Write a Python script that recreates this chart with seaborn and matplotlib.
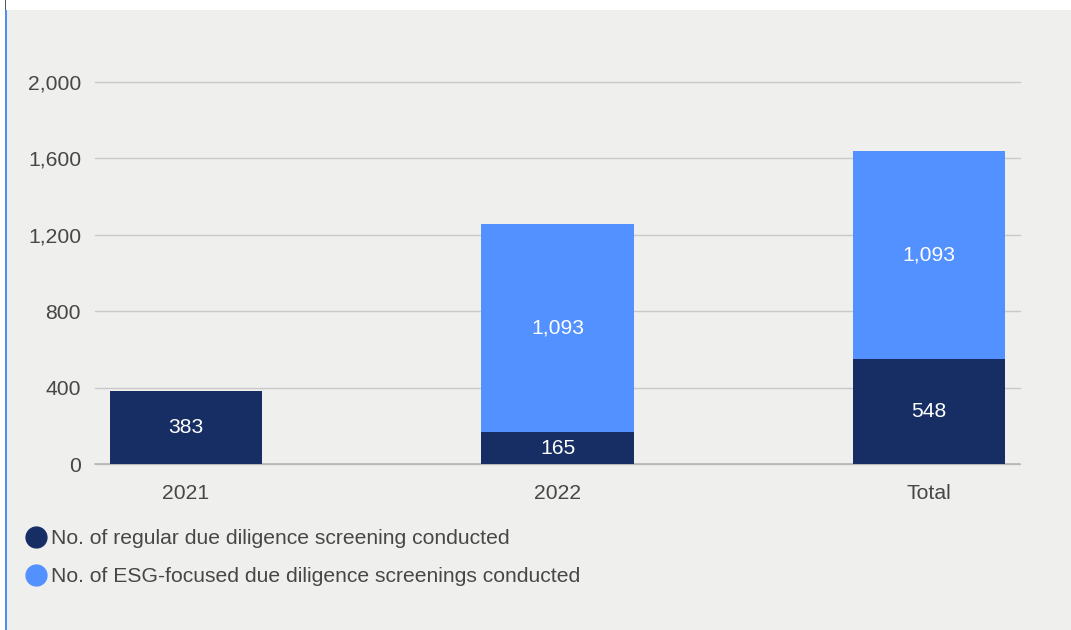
import matplotlib
matplotlib.use("Agg")
import matplotlib.pyplot as plt
from matplotlib.lines import Line2D
from matplotlib.patches import Rectangle
import seaborn as sns

categories = ["2021", "2022", "Total"]
regular = [383, 165, 548]
esg_focused = [0, 1093, 1093]
y_ticks = [0, 400, 800, 1200, 1600, 2000]
series_names = [
    "No. of regular due diligence screening conducted",
    "No. of ESG-focused due diligence screenings conducted",
]

navy = "#162e64"
light_blue = "#5291ff"
panel = "#efefed"
grid_c = "#c9c9c9"
text_c = "#474747"
fs = 15.2

sns.set_theme(style="white")
plt.rcParams["font.family"] = ["Liberation Sans", "DejaVu Sans"]

fig = plt.figure(figsize=(10.71, 6.30), dpi=100, facecolor="white")
W, H = 1071, 630

# grey panel with blue accent line on the left
fig.add_artist(Rectangle((7 / W, 0), 1 - 7 / W, (H - 10) / H,
                         transform=fig.transFigure, facecolor=panel,
                         edgecolor="none", zorder=0))
fig.add_artist(Rectangle((5 / W, 0), 2 / W, (H - 10) / H,
                         transform=fig.transFigure, facecolor="#4f8ef7",
                         edgecolor="none", zorder=1))
fig.add_artist(Rectangle((5 / W, (H - 10) / H), 1 / W, 10 / H,
                         transform=fig.transFigure, facecolor="#555555",
                         edgecolor="none", zorder=1))

ax = fig.add_axes([95 / W, (H - 464) / H, (1020 - 95) / W, (464 - 82) / H])
ax.set_facecolor("none")

totals = [r + e for r, e in zip(regular, esg_focused)]
sns.barplot(x=categories, y=totals, order=categories, color=light_blue,
            saturation=1, width=0.41, linewidth=0, ax=ax, zorder=3)
sns.barplot(x=categories, y=regular, order=categories, color=navy,
            saturation=1, width=0.41, linewidth=0, ax=ax, zorder=4)

for i, (r, e) in enumerate(zip(regular, esg_focused)):
    ax.text(i, r / 2, f"{r:,}", ha="center", va="center", color="white",
            fontsize=fs, zorder=5)
    if e > 0:
        ax.text(i, r + e / 2, f"{e:,}", ha="center", va="center",
                color="white", fontsize=fs, zorder=5)

ax.set_xlim(-0.245, 2.245)
ax.set_ylim(0, 2000)
ax.set_yticks(y_ticks)
ax.set_yticklabels([f"{v:,}" for v in y_ticks])
ax.yaxis.grid(True, color=grid_c, linewidth=1.0, zorder=0)
ax.set_axisbelow(True)
for s in ax.spines.values():
    s.set_visible(False)
ax.axhline(0, color="#b5b5b5", linewidth=1.2, zorder=2, clip_on=False)
ax.tick_params(axis="y", length=0, pad=10, labelsize=fs, labelcolor=text_c)
ax.tick_params(axis="x", length=0, pad=14.5, labelsize=fs, labelcolor=text_c)
ax.set_xlabel("")
ax.set_ylabel("")
for gl in ax.get_ygridlines():
    gl.set_clip_on(False)

handles = [Line2D([], [], marker="o", linestyle="none", markersize=15,
                  markerfacecolor=c, markeredgecolor=c)
           for c in (navy, light_blue)]
fig.legend(handles, series_names, loc="upper left",
           bbox_to_anchor=(28 / W, (H - 529) / H), frameon=False,
           fontsize=fs, labelcolor=text_c, handlelength=0.8,
           handletextpad=0.3, labelspacing=0.9, borderaxespad=0,
           borderpad=0)

fig.savefig("out.png", dpi=100, facecolor=fig.get_facecolor())
